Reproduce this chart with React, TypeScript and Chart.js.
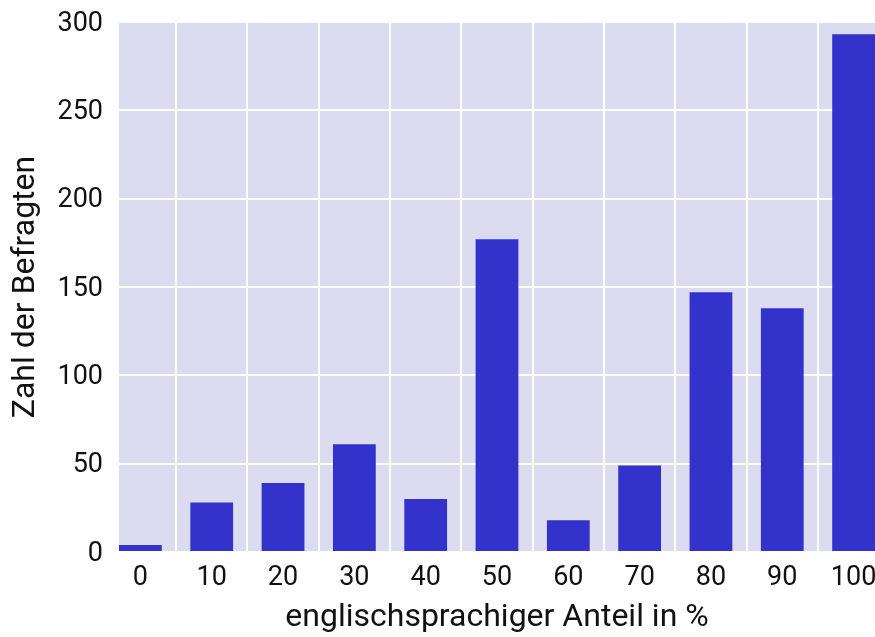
import React, { useEffect, useRef } from "react";
import { Chart, registerables } from "chart.js";

Chart.register(...registerables);

const categories = [0, 10, 20, 30, 40, 50, 60, 70, 80, 90, 100];
const respondents = [4, 28, 39, 61, 30, 177, 18, 49, 147, 138, 293];
const yTicks = [0, 50, 100, 150, 200, 250, 300];
const xTitle = "englischsprachiger Anteil in %";
const yTitle = "Zahl der Befragten";

const plotBg = {
  id: "plotBg",
  beforeDraw(chart: any) {
    const { ctx, chartArea } = chart;
    ctx.save();
    ctx.fillStyle = "#dcdcf0";
    ctx.fillRect(chartArea.left, chartArea.top, chartArea.right - chartArea.left, chartArea.bottom - chartArea.top);
    ctx.restore();
  },
};

export default function App() {
  const ref = useRef<HTMLCanvasElement>(null);
  useEffect(() => {
    document.body.style.margin = "0";
    const font = "Roboto";
    const chart = new Chart(ref.current!, {
      type: "bar",
      data: {
        datasets: [
          {
            data: categories.map((c, i) => ({ x: c, y: respondents[i] })),
            backgroundColor: "#3333cc",
            barPercentage: 0.6,
            categoryPercentage: 1,
          },
        ],
      },
      options: {
        animation: false,
        responsive: false,
        plugins: { legend: { display: false }, tooltip: { enabled: false } },
        layout: { padding: 0 },
        scales: {
          x: {
            type: "linear",
            min: -3,
            max: 103,
            offset: false,
            afterBuildTicks: (axis: any) => {
              axis.ticks = categories.map((v) => ({ value: v }));
            },
            afterFit: (axis: any) => {
              axis.paddingRight = 0;
              axis.paddingLeft = 0;
              axis.height = 85;
            },
            ticks: { font: { family: font, size: 27 }, color: "#111", padding: 10, maxRotation: 0 },
            grid: { color: "#ffffff", lineWidth: 2, drawTicks: false },
            border: { display: false },
            title: { display: true, text: xTitle, font: { family: font, size: 32 }, color: "#111", padding: { top: 0, bottom: 0 } },
          },
          y: {
            min: 0,
            max: 300,
            afterBuildTicks: (axis: any) => {
              axis.ticks = yTicks.map((v) => ({ value: v }));
            },
            afterFit: (axis: any) => {
              axis.paddingTop = 22;
              axis.paddingBottom = 0;
              axis.width = 119;
            },
            ticks: { font: { family: font, size: 27 }, color: "#111", padding: 16, labelOffset: 2 },
            grid: { color: "#ffffff", lineWidth: 2, drawTicks: false },
            border: { display: false },
            title: { display: true, text: yTitle, font: { family: font, size: 32 }, color: "#111", padding: { top: 7, bottom: 0 } },
          },
        },
      },
      plugins: [plotBg],
    });
    return () => chart.destroy();
  }, []);
  return (
    <div style={{ position: "fixed", left: 0, top: 0, width: 875, height: 637 }}>
      <canvas ref={ref} width={875} height={637} style={{ display: "block" }} />
    </div>
  );
}
